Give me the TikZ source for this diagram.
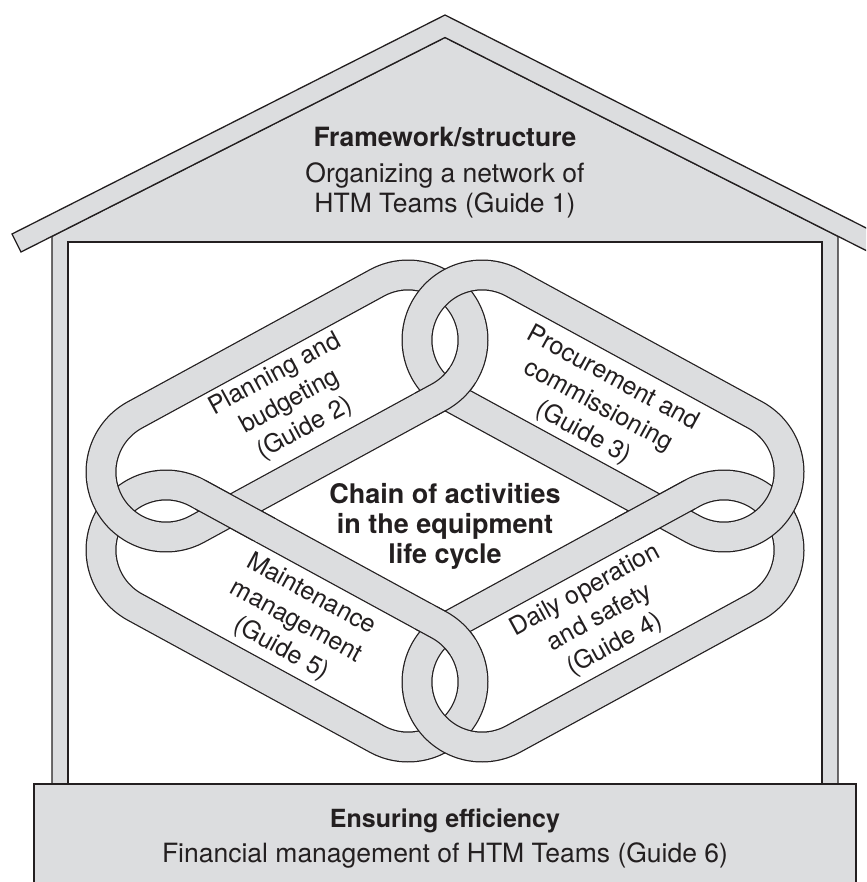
\documentclass[tikz,border=0pt]{standalone}
\usepackage{fontspec}
\setmainfont{TeX Gyre Heros}
\definecolor{ink}{RGB}{35,31,32}
\definecolor{fillg}{RGB}{220,221,223}
\newcommand\lkpath[4]{({#1+65*cos(\lka)},{#2+65*sin(\lka)}) -- ({#3+65*cos(\lka)},{#4+65*sin(\lka)}) -- plot[domain=\lka:\lkb,samples=72] ({#3+65*cos(\x)},{#4+65*sin(\x)}) -- ({#1+65*cos(\lkb)},{#2+65*sin(\lkb)}) -- plot[domain=\lkb:\lkc,samples=72] ({#1+65*cos(\x)},{#2+65*sin(\x)}) -- cycle}
\newcommand\lkangles[4]{%
  \pgfmathsetmacro\lkang{atan2(#4-#2,#3-#1)}%
  \pgfmathsetmacro\lka{\lkang-90}%
  \pgfmathsetmacro\lkb{\lkang+90}%
  \pgfmathsetmacro\lkc{\lkang+270}%
}
\newcommand\chainlink[4]{%
  \lkangles{#1}{#2}{#3}{#4}%
  \draw[tubeedge] \lkpath{#1}{#2}{#3}{#4};
  \draw[tubebody] \lkpath{#1}{#2}{#3}{#4};
}
% redraw part of a link on top, inside a clip rectangle (x1,y1)-(x2,y2)
\newcommand\patchlink[8]{%
  \lkangles{#5}{#6}{#7}{#8}%
  \begin{scope}
    \clip (#1,#2) rectangle (#3,#4);
    \draw[tubeedge] \lkpath{#5}{#6}{#7}{#8};
  \end{scope}
  \begin{scope}
    \clip ({#1-1.5},{#2-1.5}) rectangle ({#3+1.5},{#4+1.5});
    \draw[tubebody] \lkpath{#5}{#6}{#7}{#8};
  \end{scope}
}
\tikzset{
  tubeedge/.style={draw=ink, line width=31pt, line join=round},
  tubebody/.style={draw=fillg, line width=28.5pt, line join=round},
  house/.style={draw=ink, line width=1.3pt, fill=fillg},
  ttl/.style={font=\fontsize{26.5}{30}\selectfont\bfseries, text=ink, anchor=base, inner sep=0pt},
  sub/.style={font=\fontsize{26.5}{30}\selectfont, text=ink, anchor=base, inner sep=0pt},
  lktext/.style={font=\fontsize{25}{31}\selectfont, text=ink, align=center, inner sep=0pt},
}
\begin{document}
\begin{tikzpicture}[x=1pt,y=-1pt]
\useasboundingbox (0,0) rectangle (866,882);
\clip (0,0) rectangle (866,882);
\fill[white] (0,0) rectangle (866,882);
% house body
\draw[house] (52,790) -- (52,236.3) -- (445,37.5) -- (838,236.3) -- (838,790) -- cycle;
% roof band
\draw[house, line join=miter] (12,234) -- (445,15) -- (878,234) -- (869,252) -- (445,37.5) -- (21,252) -- cycle;
% window
\draw[draw=ink, line width=1.3pt, fill=white] (68,242) rectangle (822,790);
% base
\draw[house] (34,784) rectangle (856,900);
% chain links: D, C, A, B
\chainlink{166}{550}{408}{682}
\chainlink{482}{682}{724}{550}
\chainlink{166}{472}{408}{340}
\chainlink{482}{340}{724}{472}
% over/under corrections
\patchlink{195}{480}{275}{540}{166}{550}{408}{682}
\patchlink{615}{480}{695}{540}{482}{682}{724}{550}
\patchlink{415}{368}{475}{416}{166}{472}{408}{340}
\patchlink{415}{606}{475}{654}{166}{550}{408}{682}
% texts
\node[ttl] (fw) at (445,147) {Framework/structure};
\node[sub] (org1) at (445,183) {Organizing a network of};
\node[sub] (org2) at (445,213) {HTM Teams (Guide 1)};
\node[ttl, font=\fontsize{27}{30}\selectfont\bfseries] (ch1) at (445,503) {Chain of activities};
\node[ttl, font=\fontsize{27}{30}\selectfont\bfseries] (ch2) at (445,533) {in the equipment};
\node[ttl, font=\fontsize{27}{30}\selectfont\bfseries] (ch3) at (445,563) {life cycle};
\node[ttl, font=\fontsize{25}{30}\selectfont\bfseries] (ens) at (445,827) {Ensuring efficiency};
\node[sub] (fin) at (445,862) {Financial management of HTM Teams (Guide 6)};
\node[lktext, rotate=28.6] (ta) at (290,402) {Planning and\\budgeting\\(Guide 2)};
\node[lktext, rotate=-28.6] (tb) at (598,406) {Procurement and\\commissioning\\(Guide 3)};
\node[lktext, rotate=28.6] (tc) at (600,618) {Daily operation\\and safety\\(Guide 4)};
\node[lktext, rotate=-28.6] (td) at (296,622) {Maintenance\\management\\(Guide 5)};
\end{tikzpicture}
\end{document}
